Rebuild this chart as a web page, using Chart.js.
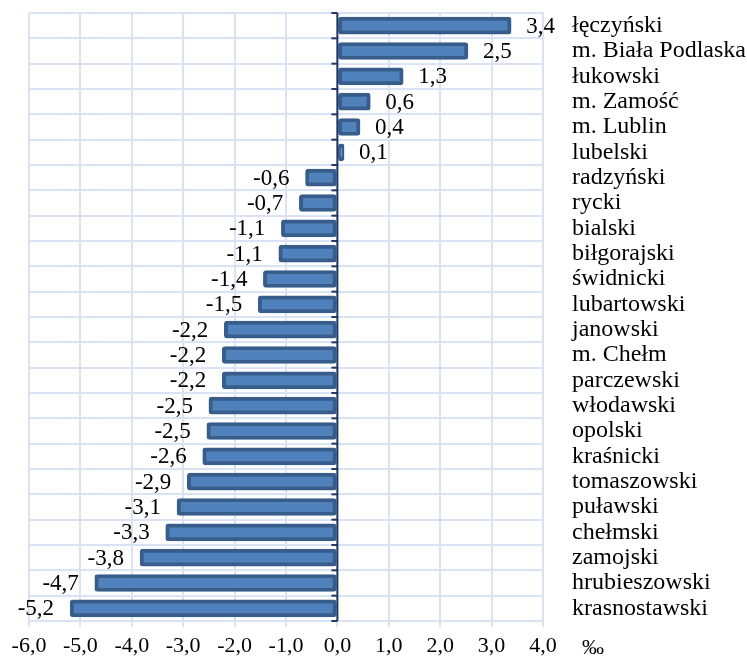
<!DOCTYPE html>
<html>
<head>
<meta charset="utf-8">
<script src="https://cdn.jsdelivr.net/npm/chart.js@4/dist/chart.umd.min.js"></script>
<style>
  html, body { margin: 0; padding: 0; background: #ffffff; }
  #wrap { width: 747px; height: 659px; }
</style>
</head>
<body>
<div id="wrap"><canvas id="c" width="747" height="659"></canvas></div>
<script>
const categories = [
  "łęczyński", "m. Biała Podlaska", "łukowski", "m. Zamość", "m. Lublin", "lubelski",
  "radzyński", "rycki", "bialski", "biłgorajski", "świdnicki", "lubartowski",
  "janowski", "m. Chełm", "parczewski", "włodawski", "opolski", "kraśnicki",
  "tomaszowski", "puławski", "chełmski", "zamojski", "hrubieszowski", "krasnostawski"
];
const values = [
  3.38, 2.54, 1.28, 0.64, 0.44, 0.13,
  -0.62, -0.74, -1.09, -1.14, -1.44, -1.54,
  -2.2, -2.24, -2.24, -2.5, -2.54, -2.62,
  -2.92, -3.12, -3.34, -3.84, -4.72, -5.2
];
const valueLabels = [
  "3,4", "2,5", "1,3", "0,6", "0,4", "0,1",
  "-0,6", "-0,7", "-1,1", "-1,1", "-1,4", "-1,5",
  "-2,2", "-2,2", "-2,2", "-2,5", "-2,5", "-2,6",
  "-2,9", "-3,1", "-3,3", "-3,8", "-4,7", "-5,2"
];
const xTickValues = [-6, -5, -4, -3, -2, -1, 0, 1, 2, 3, 4];
const xTickLabels = ["-6,0", "-5,0", "-4,0", "-3,0", "-2,0", "-1,0", "0,0", "1,0", "2,0", "3,0", "4,0"];
const unitLabel = "‰";

const FONT = "'Liberation Serif', 'Times New Roman', serif";
const GRID = "#d9e3f3";
const AXIS = "#1f3864";

const overlay = {
  id: "overlay",
  afterDatasetsDraw(chart) {
    const ctx = chart.ctx;
    const xs = chart.scales.x, ys = chart.scales.y;
    const area = chart.chartArea;
    const x0 = xs.getPixelForValue(0);
    ctx.save();
    ctx.strokeStyle = AXIS;
    ctx.lineWidth = 2;
    ctx.beginPath();
    ctx.moveTo(x0, area.top);
    ctx.lineTo(x0, area.bottom);
    ctx.stroke();
    const step = ys.getPixelForValue(1) - ys.getPixelForValue(0);
    for (let i = 0; i <= categories.length; i++) {
      const y = ys.getPixelForValue(0) - step / 2 + i * step;
      ctx.beginPath();
      ctx.moveTo(x0 - 6, y);
      ctx.lineTo(x0, y);
      ctx.stroke();
    }
    ctx.fillStyle = "#000";
    ctx.font = "23px " + FONT;
    ctx.textBaseline = "middle";
    const meta = chart.getDatasetMeta(0);
    meta.data.forEach((bar, i) => {
      const v = values[i];
      if (v >= 0) {
        ctx.textAlign = "left";
        ctx.fillText(valueLabels[i], bar.x + 15, bar.y + 1);
      } else {
        ctx.textAlign = "right";
        ctx.fillText(valueLabels[i], bar.x - 16, bar.y + 1);
      }
    });
    ctx.textAlign = "left";
    ctx.font = "22px " + FONT;
    ctx.fillText(unitLabel, xs.getPixelForValue(4) + 39, area.bottom + 27);
    ctx.restore();
  }
};

new Chart(document.getElementById("c"), {
  type: "bar",
  data: {
    labels: categories,
    datasets: [{
      data: values,
      backgroundColor: "#4f81bd",
      borderColor: "#385d8a",
      borderWidth: 4,
      borderSkipped: false,
      borderRadius: 3,
      barThickness: 17
    }]
  },
  options: {
    indexAxis: "y",
    responsive: false,
    devicePixelRatio: 1,
    animation: false,
    layout: { padding: { left: 29, top: 13, right: 0, bottom: 0 } },
    plugins: { legend: { display: false }, tooltip: { enabled: false } },
    scales: {
      x: {
        type: "linear",
        min: -6,
        max: 4,
        afterBuildTicks(scale) { scale.ticks = xTickValues.map(v => ({ value: v })); },
        afterFit(scale) { scale.height = 38; scale.paddingLeft = 0; scale.paddingRight = 0; },
        grid: { color: GRID, lineWidth: 2, tickLength: 6, drawTicks: true },
        border: { display: true, color: GRID, width: 2 },
        ticks: {
          color: "#000",
          font: { family: FONT, size: 22 },
          padding: 6,
          maxRotation: 0,
          callback: (v, i) => xTickLabels[i]
        }
      },
      y: {
        position: "right",
        afterFit(scale) { scale.width = 204; scale.paddingTop = 0; scale.paddingBottom = 0; },
        grid: { color: GRID, lineWidth: 2, offset: true, drawTicks: false },
        border: { display: true, color: GRID, width: 2 },
        ticks: {
          color: "#000",
          font: { family: FONT, size: 24 },
          padding: 29,
          autoSkip: false
        }
      }
    }
  },
  plugins: [overlay]
});
</script>
</body>
</html>
